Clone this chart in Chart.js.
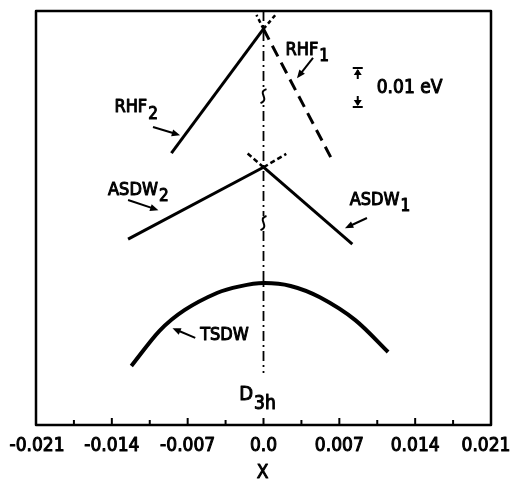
<!DOCTYPE html>
<html>
<head>
<meta charset="utf-8">
<script src="https://cdn.jsdelivr.net/npm/chart.js@4.4.1/dist/chart.umd.min.js"></script>
<style>
  html, body { margin: 0; padding: 0; background: #ffffff; }
  #wrap { width: 512px; height: 479px; }
</style>
</head>
<body>
<div id="wrap"><canvas id="c" width="512" height="479"></canvas></div>
<script>
// ---------- data (x = distortion X, y = relative energy in meV) ----------
const xTickLabels = ['-0.021', '', '-0.014', '', '-0.007', '', '0.0', '', '0.007', '', '0.014', '', '0.021'];
const xTitle = 'X';
const xMin = -0.021, xMax = 0.021, xStep = 0.0035;
const yMin = 0, yMax = 106;

const rhf2X = [-0.0085, 0.0];
const rhf2Y = [69.6, 101.4];
const rhf1X = [0.0, 0.0062];
const rhf1Y = [101.4, 68.6];
const rhf1ExtX = [0.0, -0.00065];
const rhf1ExtY = [101.4, 105.0];
const rhf2ExtX = [0.0, 0.0011];
const rhf2ExtY = [101.4, 105.0];

const asdw2X = [-0.0125, 0.0];
const asdw2Y = [47.6, 66.0];
const asdw1X = [0.0, 0.0082];
const asdw1Y = [66.0, 46.3];
const asdw1ExtX = [0.0, -0.0015];
const asdw1ExtY = [66.0, 69.6];
const asdw2ExtX = [0.0, 0.0021];
const asdw2ExtY = [66.0, 69.4];

const tsdwX = [-0.0122, -0.0096, -0.0073, -0.0043, -0.0022, 0.0, 0.0025, 0.0052, 0.0085, 0.0115];
const tsdwY = [15.1, 24.1, 29.4, 33.8, 35.5, 36.35, 35.6, 32.7, 26.8, 18.7];

const symAxisX = [0.0, 0.0];
const symAxisY = [106, 13.3];
const breakY = [84.2, 51.7];

// labels: main text, subscript, anchor (data units)
const labelTexts = ['RHF', 'RHF', 'ASDW', 'ASDW', 'TSDW', 'D'];
const labelSubs = ['1', '2', '1', '2', '', '3h'];
const labelX = [0.0040, -0.0118, 0.0107, -0.0116, -0.0036, -0.0006];
const labelY = [96.0, 81.4, 57.6, 60.2, 23.0, 7.7];
// arrows: from -> to
const arrowFromX = [0.00457, -0.0102, 0.00955, -0.0125, -0.0063];
const arrowFromY = [94.0, 76.3, 53.0, 57.6, 22.3];
const arrowToX = [0.00309, -0.0077, 0.00752, -0.0097, -0.0084];
const arrowToY = [88.8, 74.2, 50.4, 55.0, 24.8];

const scaleBarX = 0.0087;
const scaleBarTop = 91.4;
const scaleBarSize = 10; // meV = 0.01 eV
const scaleBarText = '0.01 eV';

const FONT = '"DejaVu Sans Condensed", "DejaVu Sans", sans-serif';

function pts(xs, ys) { return xs.map((x, i) => ({ x: x, y: ys[i] })); }

function ds(label, xs, ys, width, dash, tension) {
  return {
    label: label, data: pts(xs, ys), showLine: true, borderColor: '#000', backgroundColor: '#000',
    borderWidth: width, borderDash: dash || [], pointRadius: 0, tension: tension || 0,
    borderCapStyle: 'butt'
  };
}

function heavyText(ctx, txt, x, y) {
  ctx.fillText(txt, x, y);
  ctx.strokeText(txt, x, y);
}

const decor = {
  id: 'decor',
  afterDatasetsDraw(chart) {
    const ctx = chart.ctx;
    const xs = chart.scales.x, ys = chart.scales.y;
    const a = chart.chartArea;
    ctx.save();
    ctx.strokeStyle = '#000';
    ctx.fillStyle = '#000';
    ctx.lineJoin = 'round';
    // frame
    ctx.lineWidth = 2.5;
    ctx.strokeRect(a.left, a.top, a.right - a.left, a.bottom - a.top);
    // inward ticks + tick labels
    ctx.font = '19px ' + FONT;
    ctx.textAlign = 'center';
    ctx.textBaseline = 'middle';
    xTickLabels.forEach((lab, i) => {
      const v = xMin + i * xStep;
      const px = xs.getPixelForValue(v);
      if (i > 0 && i < xTickLabels.length - 1) {
        ctx.lineWidth = 2;
        ctx.beginPath();
        ctx.moveTo(px, a.bottom);
        ctx.lineTo(px, a.bottom - (lab ? 7 : 5));
        ctx.stroke();
      }
      if (lab) {
        ctx.lineWidth = 1;
        const off = i === 0 ? 1 : (i === xTickLabels.length - 1 ? -5 : 0);
        heavyText(ctx, lab, px + off, a.bottom + 21);
      }
    });
    ctx.lineWidth = 1;
    heavyText(ctx, xTitle, xs.getPixelForValue(0) - 1, a.bottom + 48);
    // break marks on symmetry axis
    breakY.forEach(v => {
      const px = xs.getPixelForValue(0), py = ys.getPixelForValue(v);
      ctx.fillStyle = '#fff';
      ctx.fillRect(px - 3, py - 7, 6, 14);
      ctx.lineWidth = 2;
      ctx.beginPath();
      ctx.moveTo(px + 3, py - 7);
      ctx.bezierCurveTo(px - 7, py - 4, px + 7, py + 3, px - 3, py + 7);
      ctx.stroke();
    });
    ctx.fillStyle = '#000';
    // scale bar
    const sx = xs.getPixelForValue(scaleBarX);
    const st = ys.getPixelForValue(scaleBarTop);
    const sb = ys.getPixelForValue(scaleBarTop - scaleBarSize);
    ctx.lineWidth = 2;
    ctx.beginPath();
    ctx.moveTo(sx - 5, st); ctx.lineTo(sx + 5, st);
    ctx.moveTo(sx, st + 2); ctx.lineTo(sx, st + 11);
    ctx.moveTo(sx - 5, sb); ctx.lineTo(sx + 5, sb);
    ctx.moveTo(sx, sb - 2); ctx.lineTo(sx, sb - 11);
    ctx.stroke();
    ctx.beginPath();
    ctx.moveTo(sx, st + 1); ctx.lineTo(sx - 4, st + 7); ctx.lineTo(sx + 4, st + 7); ctx.closePath();
    ctx.moveTo(sx, sb - 1); ctx.lineTo(sx - 4, sb - 7); ctx.lineTo(sx + 4, sb - 7); ctx.closePath();
    ctx.fill();
    ctx.font = '19px ' + FONT;
    ctx.textAlign = 'left';
    ctx.textBaseline = 'middle';
    ctx.lineWidth = 1;
    heavyText(ctx, scaleBarText, sx + 19, (st + sb) / 2 + 1);
    // labels
    labelTexts.forEach((txt, i) => {
      const px = xs.getPixelForValue(labelX[i]), py = ys.getPixelForValue(labelY[i]);
      const big = i === 5;
      const f1 = (big ? 20 : 18) + 'px ' + FONT;
      const f2 = (big ? 19 : 17) + 'px ' + FONT;
      ctx.font = f1;
      const w1 = ctx.measureText(txt).width;
      ctx.font = f2;
      const w2 = labelSubs[i] ? ctx.measureText(labelSubs[i]).width : 0;
      const x0 = px - (w1 + w2) / 2;
      ctx.textAlign = 'left';
      ctx.textBaseline = 'middle';
      ctx.font = f1;
      heavyText(ctx, txt, x0, py);
      if (labelSubs[i]) {
        ctx.font = f2;
        heavyText(ctx, labelSubs[i], x0 + w1 + 1, py + (big ? 9 : 7));
      }
    });
    // arrows
    ctx.lineWidth = 2;
    arrowFromX.forEach((fx, i) => {
      const x1 = xs.getPixelForValue(fx), y1 = ys.getPixelForValue(arrowFromY[i]);
      const x2 = xs.getPixelForValue(arrowToX[i]), y2 = ys.getPixelForValue(arrowToY[i]);
      const ang = Math.atan2(y2 - y1, x2 - x1);
      ctx.beginPath();
      ctx.moveTo(x1, y1);
      ctx.lineTo(x2 - 4 * Math.cos(ang), y2 - 4 * Math.sin(ang));
      ctx.stroke();
      ctx.beginPath();
      ctx.moveTo(x2, y2);
      ctx.lineTo(x2 - 9 * Math.cos(ang - 0.4), y2 - 9 * Math.sin(ang - 0.4));
      ctx.lineTo(x2 - 9 * Math.cos(ang + 0.4), y2 - 9 * Math.sin(ang + 0.4));
      ctx.closePath();
      ctx.fill();
    });
    ctx.restore();
  }
};

new Chart(document.getElementById('c'), {
  type: 'scatter',
  data: {
    datasets: [
      ds('axis', symAxisX, symAxisY, 1.8, [10, 4, 2, 4]),
      ds('RHF2', rhf2X, rhf2Y, 3),
      ds('RHF1', rhf1X, rhf1Y, 3, [12, 7]),
      ds('RHF1ext', rhf1ExtX, rhf1ExtY, 2.5, [4, 3]),
      ds('RHF2ext', rhf2ExtX, rhf2ExtY, 2.5, [4, 3]),
      ds('ASDW2', asdw2X, asdw2Y, 3),
      ds('ASDW1', asdw1X, asdw1Y, 3),
      ds('ASDW1ext', asdw1ExtX, asdw1ExtY, 2.5, [5, 3]),
      ds('ASDW2ext', asdw2ExtX, asdw2ExtY, 2.5, [5, 3]),
      ds('TSDW', tsdwX, tsdwY, 4, [], 0.3)
    ]
  },
  options: {
    responsive: false,
    animation: false,
    events: [],
    layout: { padding: { left: 36, top: 11, right: 21, bottom: 54 } },
    plugins: { legend: { display: false }, tooltip: { enabled: false } },
    scales: {
      x: {
        type: 'linear', min: xMin, max: xMax,
        grid: { display: false, drawTicks: false },
        border: { display: false },
        ticks: { display: false },
        title: { display: false }
      },
      y: { type: 'linear', min: yMin, max: yMax, display: false }
    }
  },
  plugins: [decor]
});
</script>
</body>
</html>
